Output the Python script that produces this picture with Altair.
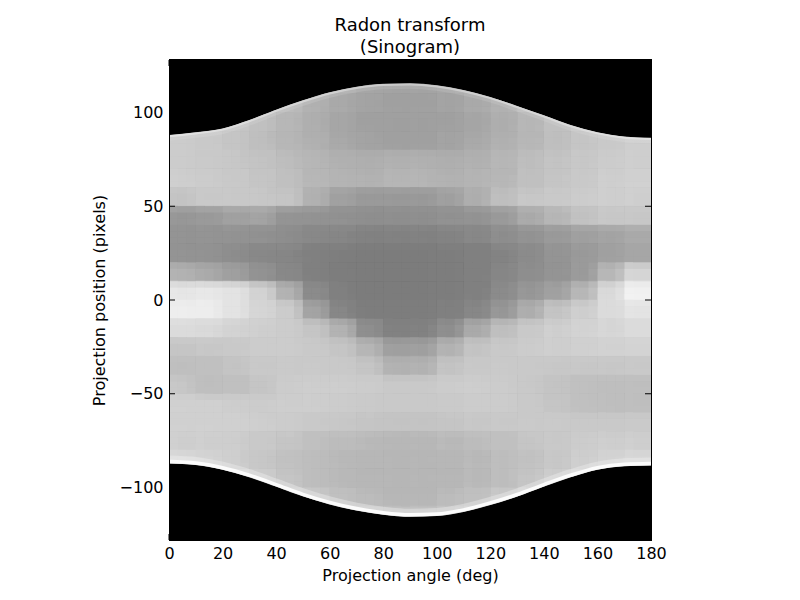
import altair as alt
import pandas as pd

# projection angle (deg) at the centre of each 10-degree column of the sinogram
angles = [5, 15, 25, 35, 45, 55, 65, 75, 85, 95, 105, 115, 125, 135, 145, 155, 165, 175]
step = 10

# grey level (0 black .. 255 white) of each column, one list per 10-pixel row, top to bottom
# (cells lying outside the object carry the nearest inside value; the black mask covers them)
row_p125 = [205, 205, 200, 195, 188, 178, 175, 168, 165, 165, 168, 175, 178, 190, 195, 200, 205, 206]
row_p115 = [205, 205, 200, 195, 188, 178, 175, 168, 165, 165, 168, 175, 178, 190, 195, 200, 205, 206]
row_p105 = [205, 205, 200, 195, 188, 178, 170, 165, 162, 162, 165, 170, 178, 190, 193, 200, 205, 206]
row_p95 = [205, 205, 200, 193, 185, 176, 168, 162, 160, 160, 162, 167, 175, 184, 193, 200, 203, 206]
row_p85 = [205, 203, 198, 192, 185, 178, 170, 164, 162, 162, 164, 170, 178, 186, 192, 198, 203, 206]
row_p75 = [205, 204, 200, 196, 190, 184, 178, 177, 178, 178, 177, 178, 184, 190, 196, 200, 205, 207]
row_p65 = [207, 205, 202, 198, 193, 186, 181, 180, 182, 182, 180, 181, 186, 193, 198, 203, 207, 210]
row_p55 = [196, 202, 202, 200, 198, 178, 162, 155, 154, 154, 160, 175, 192, 200, 203, 205, 207, 208]
row_p45 = [152, 155, 162, 164, 150, 148, 146, 145, 145, 145, 146, 148, 155, 171, 182, 195, 200, 201]
row_p35 = [150, 150, 148, 146, 142, 138, 134, 132, 132, 132, 133, 136, 142, 148, 155, 160, 165, 170]
row_p25 = [150, 148, 142, 138, 134, 130, 127, 125, 125, 125, 126, 128, 133, 140, 150, 155, 162, 168]
row_p15 = [180, 172, 160, 148, 138, 130, 126, 125, 125, 125, 126, 128, 134, 143, 150, 157, 185, 215]
row_p5 = [232, 233, 228, 212, 180, 140, 128, 125, 125, 125, 126, 130, 140, 152, 162, 185, 218, 242]
row_m5 = [240, 238, 228, 215, 205, 165, 135, 127, 126, 126, 128, 135, 152, 175, 197, 207, 220, 229]
row_m15 = [220, 218, 212, 208, 205, 198, 180, 145, 132, 132, 145, 170, 192, 203, 208, 212, 216, 220]
row_m25 = [198, 200, 203, 205, 205, 203, 198, 182, 160, 160, 180, 196, 202, 205, 207, 209, 211, 213]
row_m35 = [192, 193, 197, 202, 204, 204, 203, 198, 180, 180, 196, 202, 204, 203, 201, 200, 200, 202]
row_m45 = [200, 192, 193, 198, 205, 206, 206, 205, 203, 203, 205, 206, 205, 202, 197, 193, 191, 192]
row_m55 = [210, 209, 206, 205, 206, 206, 205, 204, 203, 203, 204, 205, 205, 203, 198, 194, 192, 192]
row_m65 = [210, 210, 209, 207, 205, 203, 200, 198, 197, 197, 198, 200, 202, 204, 204, 203, 203, 204]
row_m75 = [208, 208, 206, 203, 198, 193, 189, 187, 186, 186, 187, 189, 193, 198, 202, 205, 207, 208]
row_m85 = [218, 214, 207, 201, 195, 190, 187, 185, 184, 184, 185, 187, 190, 195, 201, 207, 213, 217]
row_m95 = [218, 214, 212, 206, 198, 190, 187, 185, 184, 184, 185, 187, 190, 198, 206, 212, 213, 217]
row_m105 = [218, 214, 212, 206, 208, 202, 193, 188, 186, 186, 188, 193, 202, 208, 206, 212, 213, 217]
row_m115 = [218, 214, 212, 206, 208, 202, 208, 202, 196, 196, 200, 208, 202, 208, 206, 212, 213, 217]
row_m125 = [218, 214, 212, 206, 208, 202, 208, 202, 196, 196, 200, 208, 202, 208, 206, 212, 213, 217]

rows = [
    (125, row_p125), (115, row_p115), (105, row_p105), (95, row_p95), (85, row_p85),
    (75, row_p75), (65, row_p65), (55, row_p55), (45, row_p45), (35, row_p35),
    (25, row_p25), (15, row_p15), (5, row_p5), (-5, row_m5), (-15, row_m15),
    (-25, row_m25), (-35, row_m35), (-45, row_m45), (-55, row_m55), (-65, row_m65),
    (-75, row_m75), (-85, row_m85), (-95, row_m95), (-105, row_m105), (-115, row_m115),
    (-125, row_m125),
]

# edges of the non-zero part of the sinogram, every 10 degrees
edge_angles = [0, 10, 20, 30, 40, 50, 60, 70, 80, 90, 100, 110, 120, 130, 140, 150, 160, 170, 180]
top_edge = [88, 89.5, 91.5, 96, 101.5, 106.5, 110.8, 113.7, 115.3, 115.6,
            114.5, 112, 108.3, 103.5, 98.5, 93.3, 89.5, 87.2, 86.5]
bottom_edge = [-87.2, -88, -90.5, -94.5, -99.5, -104.7, -109, -112.3, -114.5, -115.6,
               -115.2, -113, -109.3, -104.8, -99.5, -94.5, -90.5, -88.7, -88.3]

x_ticks = [0, 20, 40, 60, 80, 100, 120, 140, 160, 180]
y_ticks = [-100, -50, 0, 50, 100]
p_min, p_max = -128, 128

FONT = "DejaVu Sans"
W, H = 482, 480

cells = []
for p, greys in rows:
    for a, g in zip(angles, greys):
        cells.append({
            "a0": a - step / 2, "a1": a + step / 2,
            "p0": p - step / 2, "p1": p + step / 2,
            "shade": "#{0:02x}{0:02x}{0:02x}".format(g),
        })
cells = pd.DataFrame(cells)
edges = pd.DataFrame({"angle": edge_angles, "top": top_edge, "bottom": bottom_edge})
xt = pd.DataFrame({"angle": x_ticks})
yt = pd.DataFrame({"pos": y_ticks})

x_scale = alt.Scale(domain=[0, 180], nice=False, zero=False)
y_scale = alt.Scale(domain=[p_min, p_max], nice=False, zero=False)
x_axis = alt.Axis(values=x_ticks, title="Projection angle (deg)", ticks=False, labelFlush=False,
                  domain=False, grid=False, labelPadding=5, titlePadding=6)
y_axis = alt.Axis(values=y_ticks, title="Projection position (pixels)", ticks=False, labelFlush=False,
                  domain=False, grid=False, labelPadding=6, titlePadding=12)


def X(field):
    return alt.X(field, type="quantitative", scale=x_scale, axis=x_axis)


def Y(field):
    return alt.Y(field, type="quantitative", scale=y_scale, axis=y_axis)


# the cell grid is painted a few times with small shifts and falling opacity,
# which softens the 10x10 blocks the way imshow's smoothing does
cell_w = W / 18
cell_h = H * step / (p_max - p_min)
shifts = [(0, 0), (-1, -1), (1, 1), (-1, 1), (1, -1), (-1, 0), (1, 0), (0, -1), (0, 1)]
heat_layers = []
for k, (sx, sy) in enumerate(shifts, start=1):
    heat_layers.append(
        alt.Chart(cells).mark_rect(
            clip=True, opacity=1 / k, strokeWidth=1 if k == 1 else 0,
            xOffset=sx * cell_w / 3, yOffset=sy * cell_h / 3,
        ).encode(
            x=X("a0"), x2="a1:Q",
            y=Y("p0"), y2="p1:Q",
            color=alt.Color("shade:N", scale=None),
            stroke=alt.Stroke("shade:N", scale=None),
        )
    )

above = alt.Chart(edges).mark_area(color="black", interpolate="monotone", clip=True).encode(
    x=X("angle"), y=Y("top"), y2=alt.datum(p_max),
)
below = alt.Chart(edges).mark_area(color="black", interpolate="monotone", clip=True).encode(
    x=X("angle"), y=Y("bottom"), y2=alt.datum(p_min),
)

top_shade = alt.Gradient(
    gradient="linear", x1=0, x2=1, y1=0, y2=0,
    stops=[alt.GradientStop(color="#e4e4e4", offset=0),
           alt.GradientStop(color="#c8c8c8", offset=0.5),
           alt.GradientStop(color="#e4e4e4", offset=1)],
)
top_glow = alt.Chart(edges).mark_line(
    interpolate="monotone", strokeWidth=5, opacity=0.25, yOffset=3, clip=True,
    color=top_shade,
).encode(x=X("angle"), y=Y("top"))
top_rim = alt.Chart(edges).mark_line(
    interpolate="monotone", strokeWidth=2, yOffset=1.2, clip=True, color=top_shade,
).encode(x=X("angle"), y=Y("top"))
bottom_glow = alt.Chart(edges).mark_line(
    interpolate="monotone", strokeWidth=8, opacity=0.4, yOffset=-4, clip=True,
    color="#f0f0f0",
).encode(x=X("angle"), y=Y("bottom"))
bottom_rim = alt.Chart(edges).mark_line(
    interpolate="monotone", strokeWidth=3.5, yOffset=-2, clip=True, color="#fbfbfb",
).encode(x=X("angle"), y=Y("bottom"))

tick_left = alt.Chart(yt).mark_rule(color="black").encode(
    y=Y("pos"), x=alt.value(0), x2=alt.value(6))
tick_right = alt.Chart(yt).mark_rule(color="black").encode(
    y=Y("pos"), x=alt.value(W - 6), x2=alt.value(W))
tick_bottom = alt.Chart(xt).mark_rule(color="black").encode(
    x=X("angle"), y=alt.value(H), y2=alt.value(H - 6))
tick_top = alt.Chart(xt).mark_rule(color="black").encode(
    x=X("angle"), y=alt.value(0), y2=alt.value(6))

frame = alt.Chart(edges).mark_rect(fill=None, stroke="black", strokeWidth=1).encode(
    x=alt.value(0.5), x2=alt.value(W + 0.5), y=alt.value(-0.5), y2=alt.value(H + 0.5))

chart = alt.layer(
    *heat_layers, above, below, top_glow, top_rim, bottom_glow, bottom_rim,
    tick_left, tick_right, tick_bottom, tick_top, frame,
).properties(
    width=W,
    height=H,
    autosize="none",
    padding={"left": 161, "top": 52, "right": 127, "bottom": 56},
    title=alt.TitleParams(
        ["Radon transform", "(Sinogram)"],
        font=FONT, fontSize=18, fontWeight="normal", color="black",
        anchor="middle", frame="group", offset=2, lineHeight=22,
    ),
).configure_view(
    stroke=None
).configure_axis(
    labelFont=FONT, titleFont=FONT, labelFontSize=16, titleFontSize=16,
    labelColor="black", titleColor="black", titleFontWeight="normal",
)

chart.save("out.html", embed_options={"renderer": "svg", "actions": False})
